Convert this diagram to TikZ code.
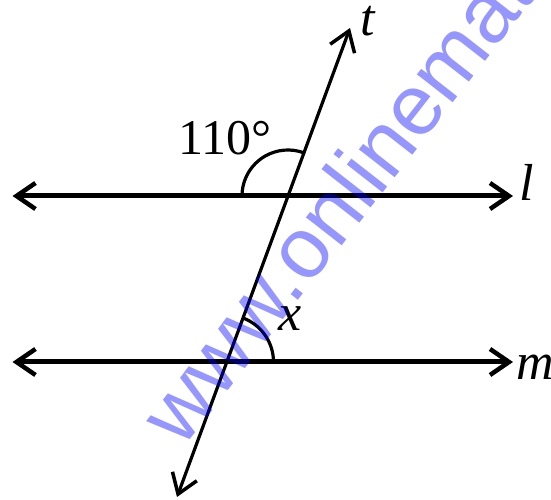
\documentclass[tikz,border=0pt]{standalone}
\usepackage{fontspec}
\setmainfont{Liberation Serif}
\newfontfamily\wmfont{Liberation Sans}
\usetikzlibrary{arrows.meta}
\begin{document}
\begin{tikzpicture}[x=1pt,y=1pt,
  parline/.style={line width=5pt,{Straight Barb[length=19pt,width=26pt,line width=4.5pt]}-{Straight Barb[length=19pt,width=26pt,line width=4.5pt]}},
  transline/.style={line width=3.2pt,{Straight Barb[length=19pt,width=26pt,line width=3.5pt]}-{Straight Barb[length=19pt,width=26pt,line width=3.5pt]}},
  anglearc/.style={line width=3.2pt},
  lbl/.style={font=\fontsize{52}{60}\selectfont\itshape, inner sep=0pt},
  deg/.style={font=\fontsize{50}{60}\selectfont, inner sep=0pt},
  wm/.style={font=\wmfont\fontsize{86}{90}\selectfont, text=blue, text opacity=0.41, inner sep=0pt}
]
\useasboundingbox (0,0) rectangle (551,500);
\fill[white] (0,0) rectangle (551,500);
% coordinates
\coordinate (lL) at (12.5,304);
\coordinate (lR) at (513,304);
\coordinate (mL) at (12.5,138);
\coordinate (mR) at (513,138);
\coordinate (tT) at (350,472);
\coordinate (tB) at (177,3);
\coordinate (A) at (288,304);
\coordinate (B) at (226.5,138);
% lines
\draw[parline] (lL) -- (lR);
\draw[parline] (mL) -- (mR);
\draw[transline] (tB) -- (tT);
% angle arcs
\draw[anglearc] (A) ++(180:46) arc[start angle=180, end angle=69.75, radius=46];
\draw[anglearc] (B) ++(0:47) arc[start angle=0, end angle=69.75, radius=47];
% labels
\node[lbl] (tlab) at (368,479) {t};
\node[lbl] (llab) at (527,318) {l};
\node[lbl, anchor=west] (mlab) at (516,133) {m};
\node[lbl] (xlab) at (290,181) {x};
\node[deg] (ang) at (225,362) {110°};
% watermark
\begin{scope}
\clip (0,0) rectangle (551,500);
\node[wm, anchor=base west, rotate=52] (wmark) at (182,50) {www.onlinemath4all.com};
\end{scope}
\end{tikzpicture}
\end{document}
